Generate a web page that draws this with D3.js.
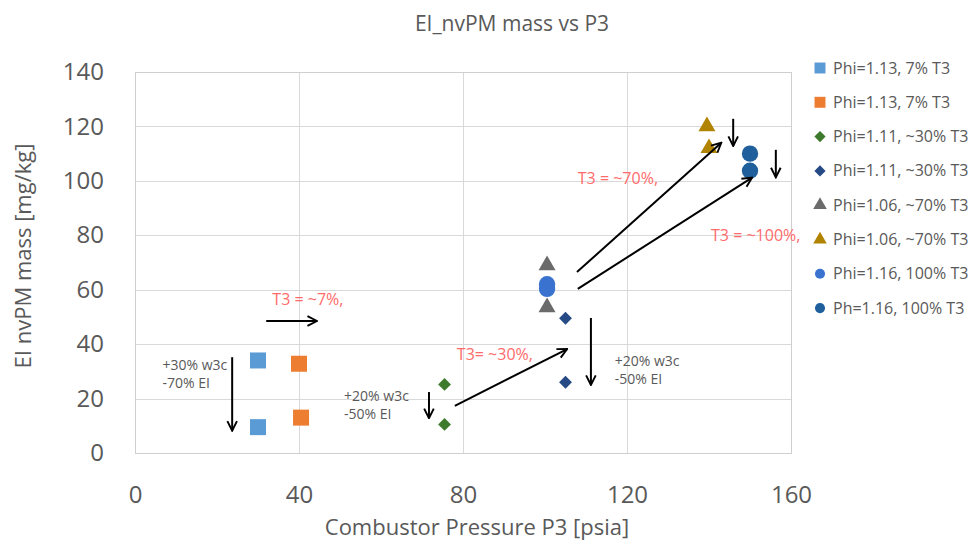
<!DOCTYPE html>
<meta charset="utf-8">
<head>
    <style>
        body { margin: 0; background: #ffffff; font-family: "Open Sans", sans-serif; }
        .grid line { stroke: #d9d9d9; stroke-width: 1; shape-rendering: crispEdges; }
        .grid path { stroke-width: 0; }
        .tick text { fill: #595959; }
    </style>
</head>
<body>
<div id="chart"></div>
<script src="https://d3js.org/d3.v7.min.js"></script>
<script>
    // series: name, shape, colour, x values (P3 psia), y values (EI mg/kg)
    const seriesNames = ["Phi=1.13, 7% T3", "Phi=1.13, 7% T3", "Phi=1.11, ~30% T3", "Phi=1.11, ~30% T3",
        "Phi=1.06, ~70% T3", "Phi=1.06, ~70% T3", "Phi=1.16, 100% T3", "Ph=1.16, 100% T3"];
    const seriesShapes = ["square", "square", "diamond", "diamond", "triangle", "triangle", "circle", "circle"];
    const seriesColors = ["#5b9bd5", "#ed7d31", "#3e7a2b", "#264a86", "#6b6b6b", "#b08300", "#3a72d0", "#1f5f9c"];
    const seriesX = [[30, 30], [40, 40.5], [75.5, 75.5], [105, 105], [100.5, 100.5], [139.5, 140], [100.5, 100.5], [150, 150]];
    const seriesY = [[34, 9.5], [32.8, 13], [25.2, 10.5], [49.5, 26], [69, 53.5], [120, 112], [62, 60.3], [110, 103.7]];

    const xTicks = [0, 40, 80, 120, 160];
    const yTicks = [0, 20, 40, 60, 80, 100, 120, 140];

    // annotation arrows in data units: [x1, y1, x2, y2]
    const arrows = [[23.7, 35.2, 23.7, 8.2], [71.7, 22.4, 71.7, 12.8], [32, 48.5, 44.4, 48.5],
        [78, 17.3, 105.4, 38.2], [111.2, 49.6, 111.2, 25], [107.8, 66.5, 143, 114],
        [108, 60.3, 150.5, 101.2], [145.9, 122.8, 145.9, 112.8], [156.3, 111.4, 156.3, 101.3]];
    const redLabels = [["T3 = ~7%,", 33.5, 54.5], ["T3= ~30%,", 78.5, 34], ["T3 = ~70%,", 108, 99],
        ["T3 = ~100%,", 140.5, 78]];
    // grey notes, one entry per line: text, x, y
    const greyLabels = [["+30% w3c", 6.7, 30.5], ["-70% EI", 6.7, 24], ["+20% w3c", 51, 19], ["-50% EI", 51, 12.5],
        ["+20% w3c", 117, 32], ["-50% EI", 117, 25.5]];

    const W = 972, H = 546;
    const plot = {left: 135, right: 791, top: 72, bottom: 453};

    const svg = d3.select("#chart").append("svg")
        .attr("width", W).attr("height", H);

    const x = d3.scaleLinear().domain([0, 160]).range([plot.left, plot.right]);
    const y = d3.scaleLinear().domain([0, 140]).range([plot.bottom, plot.top]);

    // gridlines
    svg.append("g")
        .attr("class", "grid")
        .attr("transform", `translate(0, ${plot.bottom})`)
        .call(d3.axisBottom(x).tickValues(xTicks).tickSize(-(plot.bottom - plot.top)).tickFormat(""));
    svg.append("g")
        .attr("class", "grid")
        .attr("transform", `translate(${plot.left}, 0)`)
        .call(d3.axisLeft(y).tickValues(yTicks).tickSize(-(plot.right - plot.left)).tickFormat(""));

    svg.append("rect")
        .attr("x", plot.left + 0.5).attr("y", plot.top + 0.5)
        .attr("width", plot.right - plot.left).attr("height", plot.bottom - plot.top)
        .attr("fill", "none").attr("stroke", "#cfcfcf");

    // tick labels
    const xAxis = svg.append("g")
        .attr("transform", `translate(0, ${plot.bottom})`)
        .call(d3.axisBottom(x).tickValues(xTicks).tickSize(0).tickPadding(33));
    const yAxis = svg.append("g")
        .attr("transform", `translate(${plot.left}, 0)`)
        .call(d3.axisLeft(y).tickValues(yTicks).tickSize(0).tickPadding(31));
    [xAxis, yAxis].forEach(a => {
        a.select(".domain").remove();
        a.selectAll("text").style("font", "24px 'Open Sans', sans-serif").attr("fill", "#595959");
    });

    // axis titles and chart title
    svg.append("text")
        .attr("x", (plot.left + plot.right) / 2 + 14).attr("y", 535)
        .attr("text-anchor", "middle").attr("fill", "#595959")
        .style("font-size", "22px")
        .text("Combustor Pressure P3 [psia]");
    svg.append("text")
        .attr("transform", `translate(31, 256) rotate(-90)`)
        .attr("text-anchor", "middle").attr("fill", "#595959")
        .style("font-size", "22px")
        .text("EI nvPM mass [mg/kg]");
    svg.append("text")
        .attr("x", 512).attr("y", 31)
        .attr("text-anchor", "middle").attr("fill", "#595959")
        .style("font-size", "21px")
        .text("EI_nvPM mass vs P3");

    // markers
    function symbolFor(shape, size) {
        const types = {square: d3.symbolSquare, diamond: d3.symbolDiamond2, triangle: d3.symbolTriangle, circle: d3.symbolCircle};
        return d3.symbol().type(types[shape]).size(size)();
    }
    const sizes = {square: 256, diamond: 105, triangle: 125, circle: 210};

    seriesNames.forEach((name, i) => {
        const pts = seriesX[i].map((v, j) => [v, seriesY[i][j]]);
        svg.append("g").selectAll("path")
            .data(pts)
            .join("path")
            .attr("transform", d => `translate(${x(d[0])}, ${y(d[1])})`)
            .attr("d", symbolFor(seriesShapes[i], sizes[seriesShapes[i]]))
            .attr("fill", seriesColors[i]);
    });

    // arrows
    svg.append("defs").append("marker")
        .attr("id", "head")
        .attr("viewBox", "0 0 10 10")
        .attr("refX", 9).attr("refY", 5)
        .attr("markerWidth", 12).attr("markerHeight", 12)
        .attr("markerUnits", "userSpaceOnUse")
        .attr("orient", "auto")
        .append("path")
        .attr("d", "M1,1 L9,5 L1,9")
        .attr("fill", "none").attr("stroke", "#000").attr("stroke-width", 1.6);

    svg.append("g").selectAll("line")
        .data(arrows)
        .join("line")
        .attr("x1", d => x(d[0])).attr("y1", d => y(d[1]))
        .attr("x2", d => x(d[2])).attr("y2", d => y(d[3]))
        .attr("stroke", "#000").attr("stroke-width", 2)
        .attr("marker-end", "url(#head)");

    // annotation text
    svg.append("g").selectAll("text")
        .data(redLabels)
        .join("text")
        .attr("x", d => x(d[1])).attr("y", d => y(d[2]))
        .attr("fill", "#ff6b6b")
        .style("font-size", "16px")
        .text(d => d[0]);

    svg.append("g").selectAll("text")
        .data(greyLabels)
        .join("text")
        .attr("x", d => x(d[1])).attr("y", d => y(d[2]))
        .attr("fill", "#595959")
        .style("font-size", "14px")
        .text(d => d[0]);

    // legend
    const legend = svg.append("g").attr("transform", "translate(820, 68)");
    seriesNames.forEach((name, i) => {
        const row = legend.append("g").attr("transform", `translate(0, ${i * 34.3})`);
        row.append("path")
            .attr("d", symbolFor(seriesShapes[i], seriesShapes[i] === "square" ? 120 : 80))
            .attr("fill", seriesColors[i]);
        row.append("text")
            .attr("x", 13).attr("y", 5.5)
            .attr("fill", "#595959")
            .style("font-size", "16px")
            .text(name);
    });
</script>
</body>
